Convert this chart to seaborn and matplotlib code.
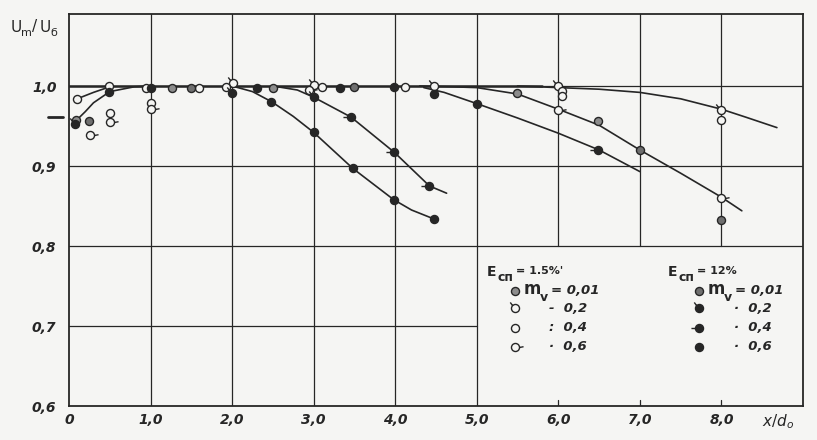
import numpy as np
import matplotlib
matplotlib.use("Agg")
import matplotlib.pyplot as plt
from matplotlib.path import Path
import seaborn as sns

# Measured points, E_сп = 1.5 %
e15_m001_x = [0.09, 1.26, 2.50, 5.49, 6.49]
e15_m001_y = [0.957, 0.998, 0.998, 0.991, 0.956]
e15_m02_x = [2.01, 3.00, 4.48, 6.00, 8.00]
e15_m02_y = [1.004, 1.001, 1.000, 1.000, 0.970]
e15_m04_x = [0.10, 0.49, 0.95, 1.01, 1.60, 1.93, 3.10, 4.12, 6.04, 6.04, 8.00, 0.50]
e15_m04_y = [0.984, 1.000, 0.997, 0.979, 0.998, 0.999, 0.999, 0.999, 0.994, 0.988, 0.958, 0.966]
e15_m06_x = [0.26, 0.50, 1.01, 2.94, 6.00, 8.00]
e15_m06_y = [0.939, 0.955, 0.971, 0.995, 0.970, 0.860]

# Measured points, E_сп = 12 %
e12_m001_x = [0.24, 1.50, 3.50, 7.00, 8.00]
e12_m001_y = [0.956, 0.998, 0.999, 0.920, 0.833]
e12_m02_x = [0.07, 2.00, 3.01]
e12_m02_y = [0.952, 0.991, 0.986]
e12_m04_x = [3.46, 3.99, 4.42, 6.49]
e12_m04_y = [0.961, 0.917, 0.875, 0.920]
e12_m06_x = [0.49, 1.00, 2.30, 2.48, 3.00, 3.32, 3.48, 3.98, 3.98, 4.47, 4.48, 5.00]
e12_m06_y = [0.993, 0.998, 0.998, 0.980, 0.942, 0.997, 0.897, 0.999, 0.858, 0.834, 0.990, 0.978]

# Hand-drawn curves
flat_x = [0.0, 5.8]
flat_y = [1.0, 1.0]
ca_x = [5.5, 6.0, 6.5, 7.0, 7.5, 8.0, 8.3, 8.68]
ca_y = [1.0, 0.998, 0.996, 0.992, 0.984, 0.971, 0.961, 0.948]
cb_x = [4.3, 4.7, 5.0, 5.5, 6.0, 6.5, 7.0, 7.5, 8.0, 8.25]
cb_y = [1.0, 0.999, 0.998, 0.990, 0.971, 0.951, 0.920, 0.891, 0.861, 0.844]
cc_x = [4.35, 4.6, 5.0, 5.5, 6.0, 6.5, 7.0]
cc_y = [0.998, 0.992, 0.978, 0.960, 0.941, 0.920, 0.893]
cd_x = [2.0, 2.25, 2.49, 2.75, 3.0, 3.48, 3.98, 4.2, 4.47]
cd_y = [1.0, 0.993, 0.980, 0.962, 0.942, 0.897, 0.858, 0.845, 0.834]
ce_x = [2.5, 2.8, 3.0, 3.46, 3.99, 4.42, 4.63]
ce_y = [1.0, 0.995, 0.986, 0.961, 0.917, 0.875, 0.866]
cf_x = [0.1, 0.3, 0.5]
cf_y = [0.984, 0.992, 0.999]
cg_x = [0.07, 0.2, 0.3, 0.5, 0.8, 1.0]
cg_y = [0.955, 0.968, 0.979, 0.993, 0.999, 1.0]

x_ticks = [0, 1, 2, 3, 4, 5, 6, 7, 8]
x_labels = ["0", "1,0", "2,0", "3,0", "4,0", "5,0", "6,0", "7,0", "8,0"]
y_ticks = [0.6, 0.7, 0.8, 0.9, 1.0]
y_labels = ["0,6", "0,7", "0,8", "0,9", "1,0"]
legend_vals = ["0,01", "0,2", "0,4", "0,6"]

paper = "#f5f5f3"
ink = "#262626"
grey = "#8c8c8c"

sns.set_style("white")
plt.rcParams['font.family'] = ['DejaVu Sans']

fig = plt.figure(figsize=(8.17, 4.40), dpi=100, facecolor=paper)
ax = fig.add_axes([69/817, 34/440, 734/817, 392/440])
ax.set_facecolor(paper)
ax.set_xlim(0, 9)
ax.set_ylim(0.6, 1.09)


# circle markers with little tails, like the hand-drawn ones
def tailed(p0, p1):
    tail = Path([p0, p1], [Path.MOVETO, Path.LINETO])
    return Path.make_compound_path(Path.unit_circle(), tail)


m_circle = "o"
m_tick = tailed((-0.7, 0.7), (-1.3, 1.5))
m_tail_r = tailed((1.0, 0.0), (2.0, 0.2))
m_tail_l = tailed((-1.0, 0.0), (-2.0, 0.0))


def dots(x, y, marker, face, scale=1.0):
    sns.scatterplot(x=x, y=y, marker=marker, s=(5.8 * scale) ** 2, color=face,
                    edgecolor=ink, linewidth=1.0, ax=ax, zorder=5, clip_on=False)


# grid (the legend box blanks the lower right part)
lw = 0.9
for yv in [0.8, 0.9, 1.0]:
    ax.plot([0, 9], [yv, yv], color=ink, lw=lw, zorder=1)
ax.plot([0, 5], [0.7, 0.7], color=ink, lw=lw, zorder=1)
for xv in [1, 2, 3, 4, 5]:
    ax.plot([xv, xv], [0.6, 1.09], color=ink, lw=lw, zorder=1)
for xv in [6, 7, 8]:
    ax.plot([xv, xv], [0.8, 1.09], color=ink, lw=lw, zorder=1)
    ax.plot([xv, xv], [0.6, 0.607], color=ink, lw=lw, zorder=1)

# curves
for cx, cy, w in [(flat_x, flat_y, 1.8), (ca_x, ca_y, 1.2), (cb_x, cb_y, 1.2),
                  (cc_x, cc_y, 1.2), (cd_x, cd_y, 1.2), (ce_x, ce_y, 1.2),
                  (cf_x, cf_y, 1.2), (cg_x, cg_y, 1.2)]:
    sns.lineplot(x=cx, y=cy, sort=False, estimator=None, color=ink, lw=w, ax=ax, zorder=3)

# points
dots(e15_m001_x, e15_m001_y, m_circle, grey)
dots(e15_m02_x, e15_m02_y, m_tick, paper, 1.5)
dots(e15_m04_x, e15_m04_y, m_circle, paper)
dots(e15_m06_x, e15_m06_y, m_tail_r, paper, 2.0)
dots(e12_m001_x, e12_m001_y, m_circle, "#6f6f6f")
dots(e12_m02_x, e12_m02_y, m_tick, ink, 1.5)
dots(e12_m04_x, e12_m04_y, m_tail_l, ink, 2.0)
dots(e12_m06_x, e12_m06_y, m_circle, ink)

# legend box contents
rows = [0.744, 0.722, 0.698, 0.674]
hand = dict(style="italic", weight="bold", fontsize=9.5, color=ink, va="center")
bold = dict(weight="bold", color=ink, va="center")
for x0, xs, pct, seps, syms in [
        (5.12, 5.47, "= 1.5%'", ["-", ":", "·"],
         [(m_circle, grey, 1.0), (m_tick, paper, 1.5), (m_circle, paper, 1.0), (m_tail_r, paper, 2.0)]),
        (7.34, 7.73, "= 12%", ["·", "·", "·"],
         [(m_circle, "#6f6f6f", 1.0), (m_tick, ink, 1.5), (m_tail_l, ink, 2.0), (m_circle, ink, 1.0)])]:
    ax.text(x0, 0.768, "E", fontsize=10, **bold)
    ax.text(x0 + 0.13, 0.761, "сп", fontsize=9, **bold)
    ax.text(x0 + 0.36, 0.769, pct, fontsize=8, **bold)
    for (mk, fc, sc), yr in zip(syms, rows):
        dots([xs], [yr], mk, fc, sc)
    ax.text(xs + 0.10, 0.746, "m", fontsize=12, **bold)
    ax.text(xs + 0.30, 0.736, "v", fontsize=9, **bold)
    ax.text(xs + 0.44, rows[0], "= " + legend_vals[0], **hand)
    for yr, sep, val in zip(rows[1:], seps, legend_vals[1:]):
        ax.text(xs + 0.42, yr, sep + "  " + val, **hand)

# axes cosmetics
for s in ax.spines.values():
    s.set_visible(True)
    s.set_color(ink)
    s.set_linewidth(1.3)
ax.set_xticks(x_ticks)
ax.set_xticklabels(x_labels, style="italic", weight="bold", fontsize=10, color=ink)
ax.set_yticks(y_ticks)
ax.set_yticklabels(y_labels, style="italic", weight="bold", fontsize=10, color=ink)
ax.tick_params(length=0, pad=5)
ax.tick_params(axis="y", pad=9)
ax.set_xlabel("")
ax.set_ylabel("")

# extra mark on the y axis and the axis names
ax.plot([-0.26, -0.07], [0.961, 0.961], color=ink, lw=2, clip_on=False)
ax.text(8.5, 0.592, r"$x/d_o$", fontsize=11, color=ink, va="top")
fig.text(11/817, 1 - 27/440, "U", fontsize=11, color=ink, va="center")
fig.text(21/817, 1 - 33/440, "m", fontsize=8, color=ink, va="center")
fig.text(32/817, 1 - 27/440, "/", fontsize=11, color=ink, va="center")
fig.text(40/817, 1 - 27/440, "U", fontsize=11, color=ink, va="center")
fig.text(50/817, 1 - 33/440, "б", fontsize=8, color=ink, va="center")

fig.savefig("out.png", dpi=100, facecolor=paper)
